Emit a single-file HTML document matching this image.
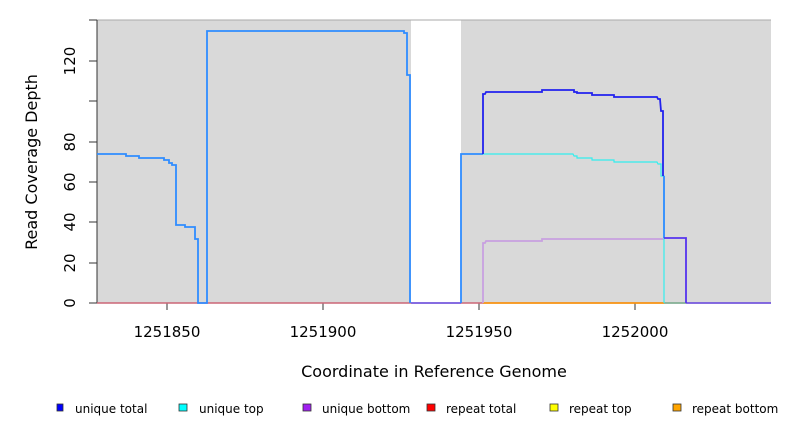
<!DOCTYPE html>
<html><head><style>body{margin:0;background:#fff}svg{display:block}</style></head><body>
<svg width="792" height="432" xmlns="http://www.w3.org/2000/svg" font-family="'DejaVu Sans','Liberation Sans',sans-serif">
<rect x="97" y="20" width="314" height="283" fill="#d9d9d9"/>
<rect x="461" y="20" width="310" height="283" fill="#d9d9d9"/>
<line x1="97" y1="20" x2="771" y2="20" stroke="#aaa"/>
<line x1="97" y1="20" x2="97" y2="303" stroke="#333"/>
<g stroke="#333">
<line x1="89" y1="303" x2="97" y2="303"/><line x1="89" y1="263" x2="97" y2="263"/><line x1="89" y1="222" x2="97" y2="222"/><line x1="89" y1="182" x2="97" y2="182"/><line x1="89" y1="142" x2="97" y2="142"/><line x1="89" y1="101" x2="97" y2="101"/><line x1="89" y1="61" x2="97" y2="61"/><line x1="89" y1="20" x2="97" y2="20"/>
<line x1="167" y1="303" x2="167" y2="310"/><line x1="323" y1="303" x2="323" y2="310"/><line x1="479" y1="303" x2="479" y2="310"/><line x1="635" y1="303" x2="635" y2="310"/>
</g>
<g font-size="15" fill="#000" text-anchor="middle">
<text transform="translate(75,303) rotate(-90)">0</text>
<text transform="translate(75,263) rotate(-90)">20</text>
<text transform="translate(75,222) rotate(-90)">40</text>
<text transform="translate(75,182) rotate(-90)">60</text>
<text transform="translate(75,142) rotate(-90)">80</text>
<text transform="translate(75,61) rotate(-90)">120</text>
<text x="167" y="337">1251850</text><text x="323" y="337">1251900</text><text x="479" y="337">1251950</text><text x="635" y="337">1252000</text>
<text x="434" y="377" font-size="16">Coordinate in Reference Genome</text>
<text transform="translate(37,162) rotate(-90)" font-size="16">Read Coverage Depth</text>
</g>
<line x1="97" y1="303" x2="771" y2="303" stroke="#cc6677" stroke-width="1.5"/>
<line x1="483" y1="303" x2="664" y2="303" stroke="#ff9900" stroke-width="1.5"/>
<line x1="664" y1="303" x2="686" y2="303" stroke="#77bb99" stroke-width="1.5"/>
<line x1="686" y1="303" x2="771" y2="303" stroke="#6655ee" stroke-width="1.5"/>
<line x1="411" y1="303" x2="461" y2="303" stroke="#6655ee" stroke-width="1.5"/>
<g fill="none" stroke-width="1.8">
<polyline stroke="#2f8cff" points="97,154 126,154 126,156 139,156 139,158 164,158 164,160 169,160 169,163 172,163 172,165 176,165 176,225 185,225 185,227 195,227 195,239 198,239 198,303 207,303 207,31 404,31 404,33 407,33 407,75 410,75 410,303"/>
<polyline stroke="#c8a0e0" points="483,303 483,243 485,243 486,241 542,241 542,239 664,239"/>
<polyline stroke="#33eeee" stroke-width="1.2" points="483,154 573,154 574,156 577,156 577,158 592,158 592,160 614,160 614,162 657,162 658,164 661,164 661,176 664,176 664,303"/>
<polyline stroke="#2f8cff" points="461,303 461,154 483,154"/>
<polyline stroke="#2222ee" points="483,154 483,94 485,94 486,92 542,92 542,90 574,90 574,92 577,92 577,93 592,93 592,95 614,95 614,97 657,97 658,99 660,99 661,111 663,111 663,176"/>
<polyline stroke="#2f8cff" points="664,176 664,238"/>
<polyline stroke="#5533ee" points="664,238 686,238 686,303"/>
</g>
<g stroke="#333" stroke-width="0.8">
<rect x="57" y="404" width="6" height="7" fill="#0000ff"/>
<rect x="179" y="404" width="8" height="7" fill="#00ffff"/>
<rect x="303" y="404" width="8" height="7" fill="#a020f0"/>
<rect x="427" y="404" width="8" height="7" fill="#ff0000"/>
<rect x="550" y="404" width="8" height="7" fill="#ffff00"/>
<rect x="673" y="404" width="8" height="7" fill="#ffa500"/>
</g>
<g font-size="12" fill="#000">
<text x="75" y="413">unique total</text>
<text x="199" y="413">unique top</text>
<text x="322" y="413">unique bottom</text>
<text x="446" y="413">repeat total</text>
<text x="569" y="413">repeat top</text>
<text x="692" y="413">repeat bottom</text>
</g>
</svg>
</body></html>
